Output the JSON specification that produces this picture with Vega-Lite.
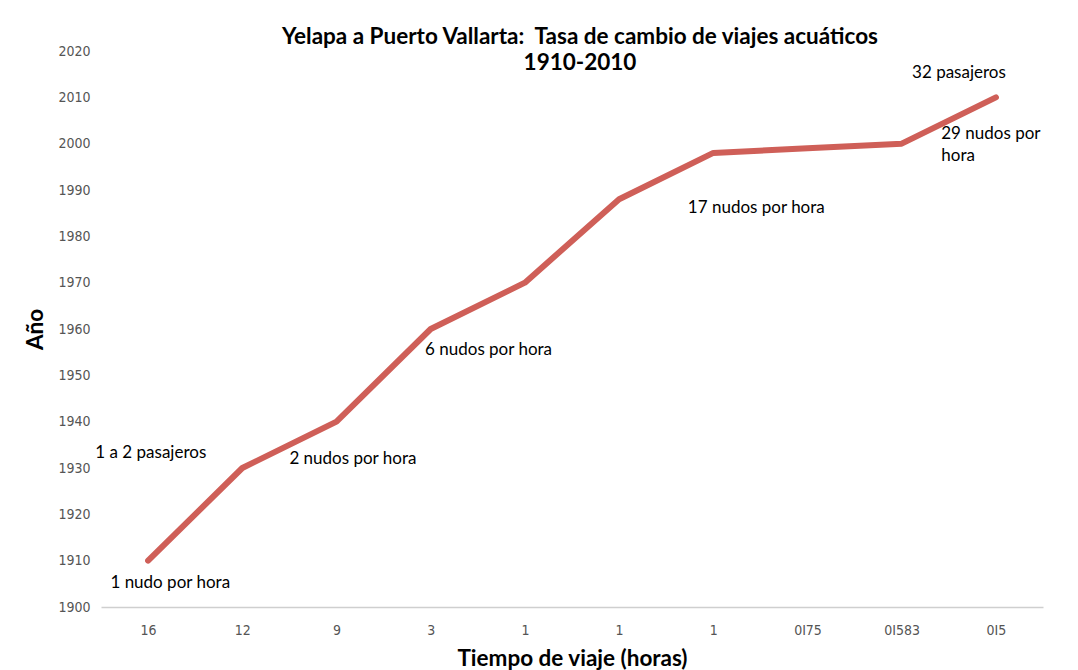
{
  "$schema": "https://vega.github.io/schema/vega-lite/v6.json",
  "autosize": {"type": "none"},
  "width": 942,
  "height": 556,
  "padding": {"left": 101, "top": 51, "right": 35, "bottom": 63},
  "background": "white",
  "title": {
    "text": ["Yelapa a Puerto Vallarta:\u00a0\u00a0Tasa de cambio de viajes acuáticos", "1910-2010"],
    "font": "Lato",
    "fontSize": 22.5,
    "fontWeight": "bold",
    "color": "#000000",
    "anchor": "middle",
    "dx": 8,
    "offset": -30,
    "lineHeight": 26
  },
  "config": {
    "view": {"stroke": null},
    "axis": {"grid": false, "ticks": false, "domain": false}
  },
  "datasets": {
    "serie": [
      {"i": 0, "tiempo": "16", "anio": 1910},
      {"i": 1, "tiempo": "12", "anio": 1930},
      {"i": 2, "tiempo": "9", "anio": 1940},
      {"i": 3, "tiempo": "3", "anio": 1960},
      {"i": 4, "tiempo": "1", "anio": 1970},
      {"i": 5, "tiempo": "1", "anio": 1988},
      {"i": 6, "tiempo": "1", "anio": 1998},
      {"i": 7, "tiempo": "0I75", "anio": 1999},
      {"i": 8, "tiempo": "0I583", "anio": 2000},
      {"i": 9, "tiempo": "0I5", "anio": 2010}
    ],
    "notas": [
      {"i": -0.56, "anio": 1933.2, "texto": "1 a 2 pasajeros"},
      {"i": -0.40, "anio": 1905.2, "texto": "1 nudo por hora"},
      {"i": 1.50, "anio": 1931.9, "texto": "2 nudos por hora"},
      {"i": 2.94, "anio": 1955.5, "texto": "6 nudos por hora"},
      {"i": 5.73, "anio": 1986.1, "texto": "17 nudos por hora"},
      {"i": 8.11, "anio": 2015.3, "texto": "32 pasajeros"},
      {"i": 8.42, "anio": 2002.1, "texto": "29 nudos por"},
      {"i": 8.42, "anio": 1997.3, "texto": "hora"}
    ]
  },
  "layer": [
    {
      "data": {"name": "serie"},
      "mark": {"type": "line", "color": "#CF5F58", "strokeWidth": 6, "strokeCap": "round", "strokeJoin": "round"},
      "encoding": {
        "x": {
          "field": "i",
          "type": "quantitative",
          "scale": {"domain": [-0.5, 9.5], "nice": false, "zero": false},
          "axis": {
            "title": "Tiempo de viaje (horas)",
            "titleFont": "Lato",
            "titleFontSize": 22.5,
            "titleFontWeight": "bold",
            "titleColor": "#000000",
            "titlePadding": 10,
            "values": [0, 1, 2, 3, 4, 5, 6, 7, 8, 9],
            "labelExpr": "['16','12','9','3','1','1','1','0I75','0I583','0I5'][datum.value]",
            "labelFont": "Liberation Sans Narrow, DejaVu Sans Condensed",
            "labelFontSize": 14,
            "labelColor": "#555555",
            "labelPadding": 16,
            "domain": true,
            "domainColor": "#cfcfcf",
            "domainWidth": 1.5
          }
        },
        "y": {
          "field": "anio",
          "type": "quantitative",
          "scale": {"domain": [1900, 2020], "nice": false, "zero": false},
          "axis": {
            "title": "Año",
            "titleFont": "Lato",
            "titleFontSize": 22.5,
            "titleFontWeight": "bold",
            "titleColor": "#000000",
            "titlePadding": 10,
            "values": [1900, 1910, 1920, 1930, 1940, 1950, 1960, 1970, 1980, 1990, 2000, 2010, 2020],
            "format": "d",
            "labelFont": "Liberation Sans Narrow, DejaVu Sans Condensed",
            "labelFontSize": 14,
            "labelColor": "#555555",
            "labelPadding": 11
          }
        }
      }
    },
    {
      "data": {"name": "notas"},
      "mark": {"type": "text", "align": "left", "baseline": "middle", "font": "Lato", "fontSize": 17, "color": "#000000", "clip": false},
      "encoding": {
        "x": {"field": "i", "type": "quantitative"},
        "y": {"field": "anio", "type": "quantitative"},
        "text": {"field": "texto"}
      }
    }
  ]
}
